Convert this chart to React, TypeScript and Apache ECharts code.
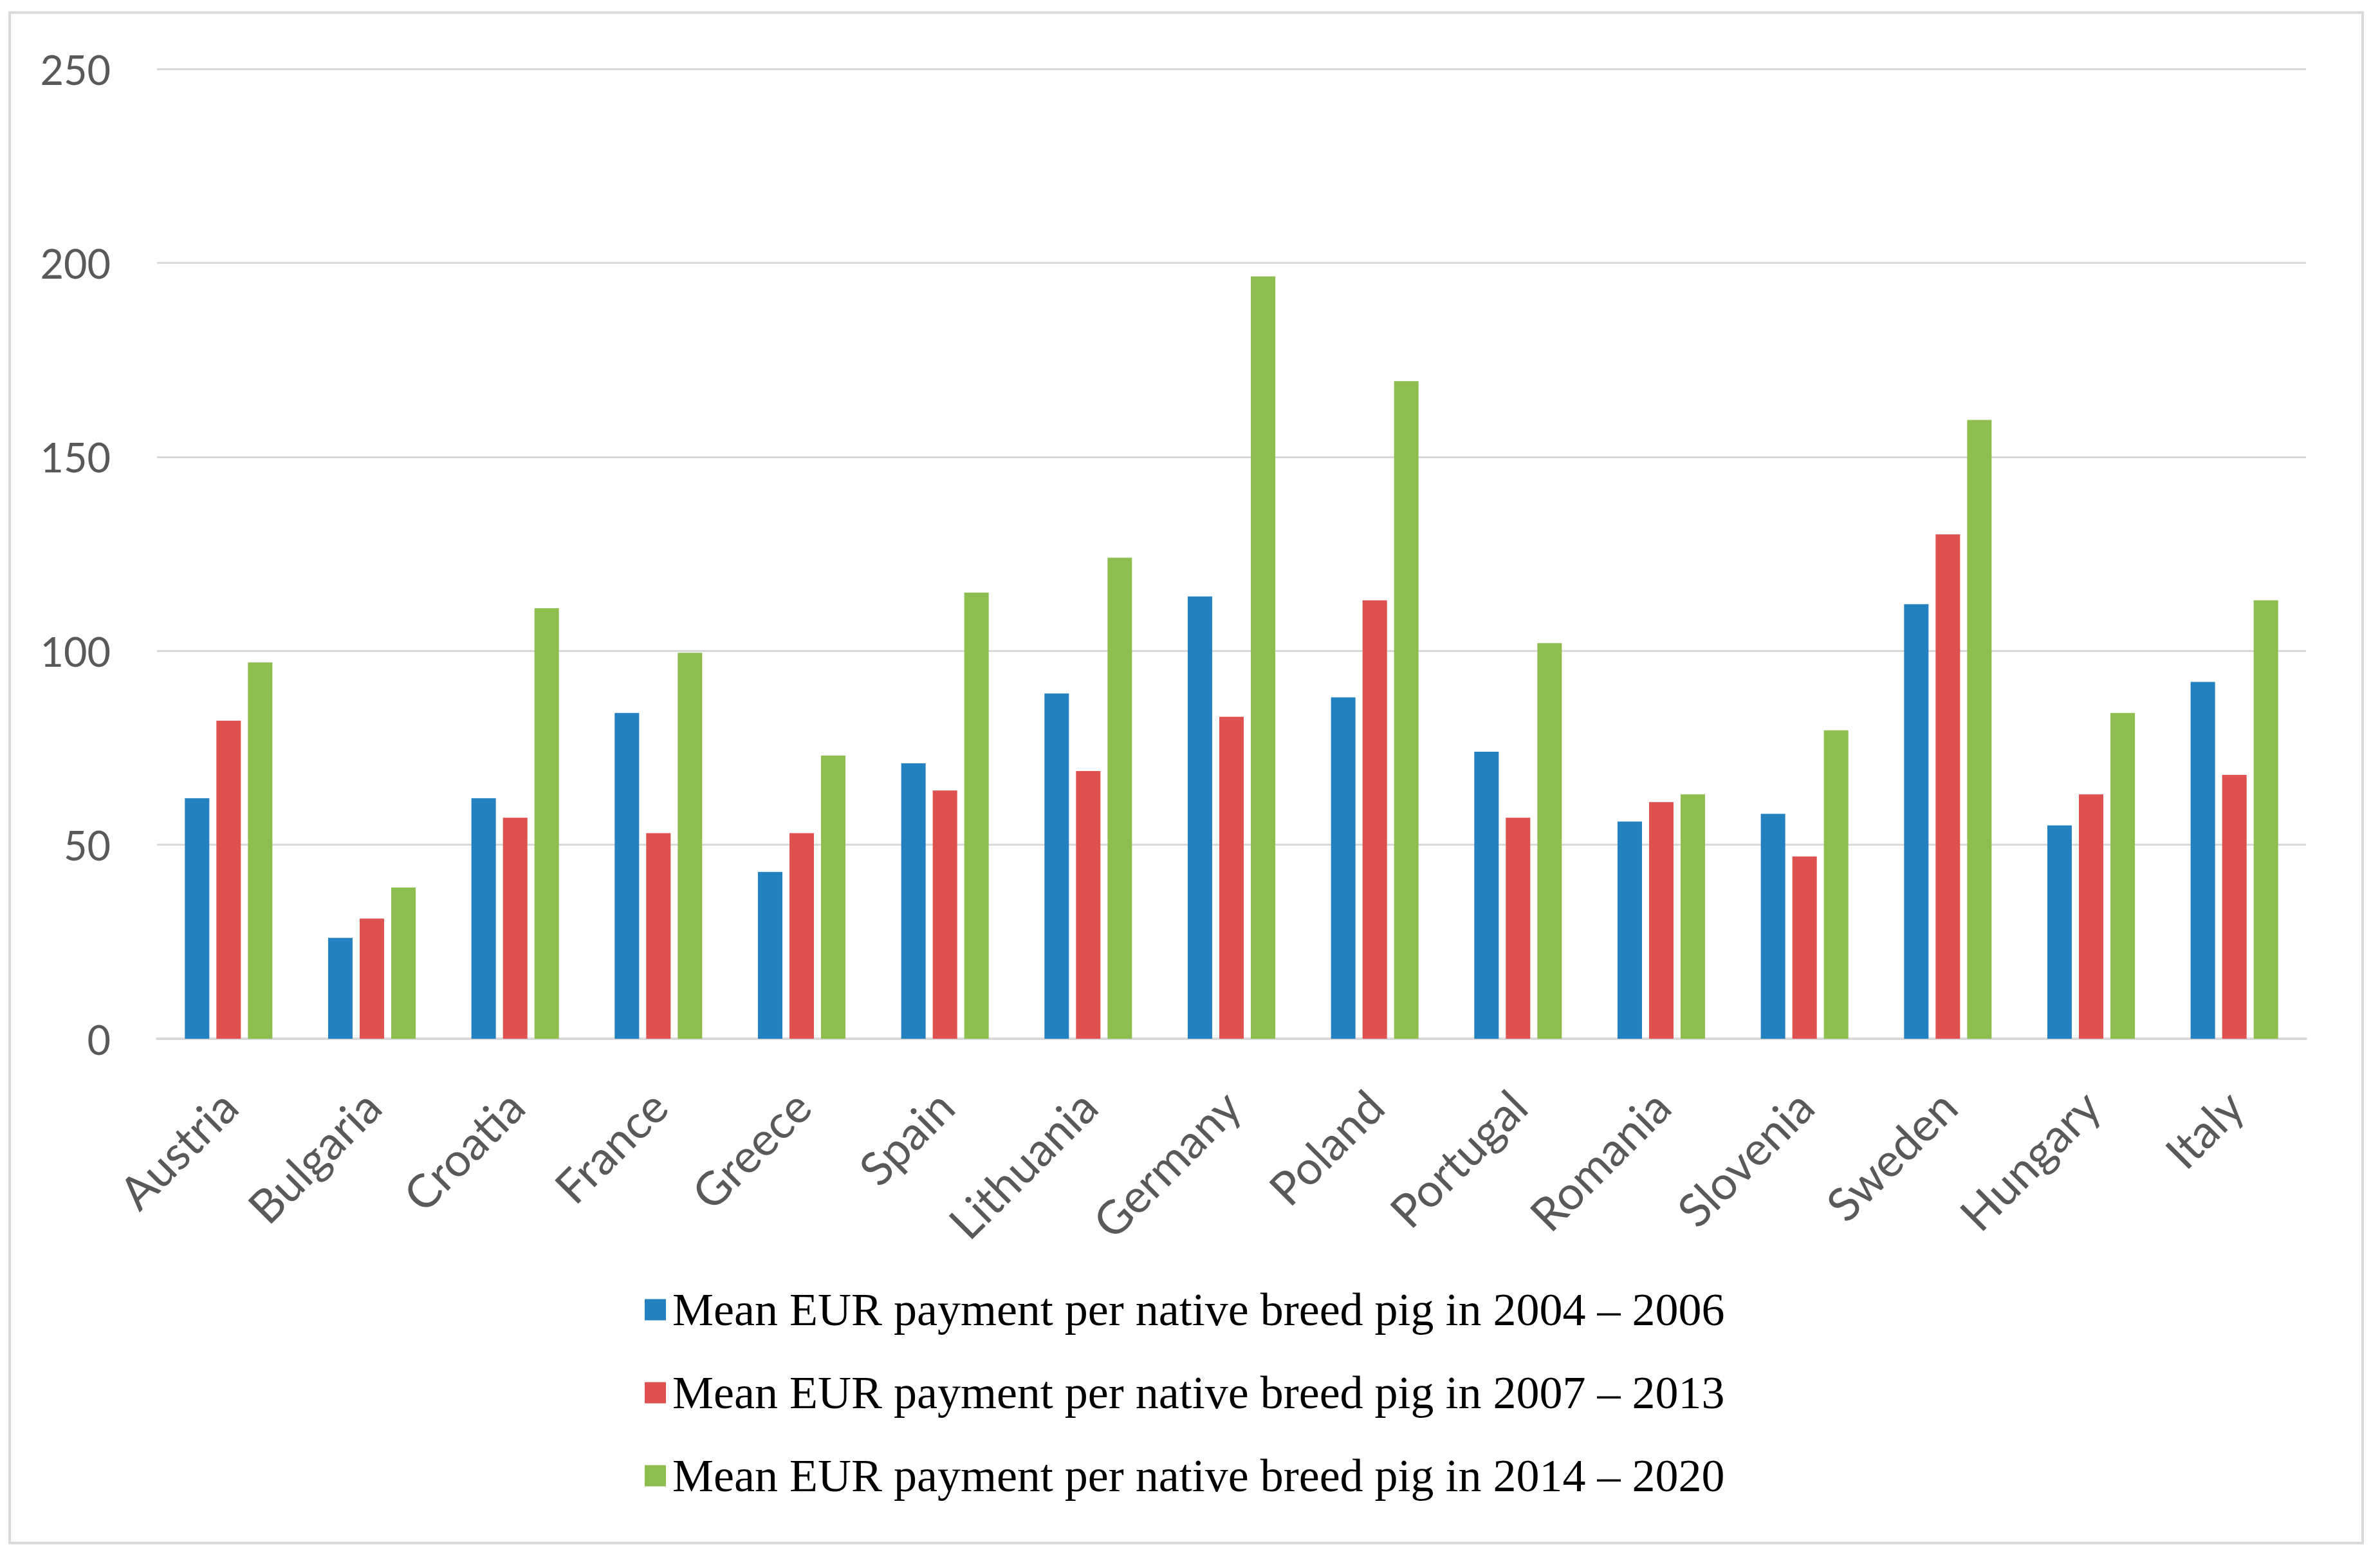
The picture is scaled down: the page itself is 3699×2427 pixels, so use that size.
import React, { useEffect, useRef } from "react";
import * as echarts from "echarts";

const categories = [
  "Austria", "Bulgaria", "Croatia", "France", "Greece", "Spain", "Lithuania",
  "Germany", "Poland", "Portugal", "Romania", "Slovenia", "Sweden", "Hungary", "Italy",
];
const seriesNames = [
  "Mean EUR payment per native breed pig in 2004 – 2006",
  "Mean EUR payment per native breed pig in 2007 – 2013",
  "Mean EUR payment per native breed pig in 2014 – 2020",
];
const values2004 = [62, 26, 62, 84, 43, 71, 89, 114, 88, 74, 56, 58, 112, 55, 92];
const values2007 = [82, 31, 57, 53, 53, 64, 69, 83, 113, 57, 61, 47, 130, 63, 68];
const values2014 = [97, 39, 111, 99.5, 73, 115, 124, 196.5, 169.5, 102, 63, 79.5, 159.5, 84, 113];
const colors = ["#2481c0", "#df5050", "#8ebd50"];
const yMin = 0;
const yMax = 250;
const yInterval = 50;

export default function App() {
  const ref = useRef<HTMLDivElement>(null);
  useEffect(() => {
    document.body.style.margin = "0";
    const chart = echarts.init(ref.current!, null, { renderer: "svg" });
    const allValues = [values2004, values2007, values2014];
    chart.setOption({
      animation: false,
      backgroundColor: "#ffffff",
      color: colors,
      graphic: [
        {
          type: "rect",
          shape: { x: 15, y: 19.5, width: 3657, height: 2378 },
          style: { fill: "none", stroke: "#d9d9d9", lineWidth: 4 },
          silent: true,
        },
      ],
      grid: { left: 244, top: 107, width: 3340, height: 1507, containLabel: false },
      legend: {
        orient: "vertical",
        left: 997,
        top: 1994,
        itemWidth: 33,
        itemHeight: 33,
        itemGap: 57,
        icon: "rect",
        data: seriesNames,
        textStyle: {
          fontFamily: "Liberation Serif",
          fontSize: 72,
          lineHeight: 72,
          color: "#000000",
          padding: [0, 0, 0, 5],
        },
      },
      xAxis: {
        type: "category",
        data: categories,
        axisTick: { show: false },
        axisLine: { lineStyle: { color: "#d9d9d9", width: 4 } },
        axisLabel: {
          rotate: 45,
          margin: 92,
          interval: 0,
          fontFamily: "Lato",
          fontSize: 72,
          color: "#595959",
        },
      },
      yAxis: {
        type: "value",
        min: yMin,
        max: yMax,
        interval: yInterval,
        axisLine: { show: false },
        axisTick: { show: false },
        splitLine: { lineStyle: { color: "#d9d9d9", width: 3 } },
        axisLabel: {
          margin: 72,
          fontFamily: "Lato",
          fontSize: 63,
          color: "#595959",
        },
      },
      series: seriesNames.map((name, i) => ({
        name,
        type: "bar",
        data: allValues[i],
        barWidth: 38,
        barGap: "29%",
        itemStyle: { color: colors[i] },
      })),
    });
    return () => chart.dispose();
  }, []);
  return <div ref={ref} style={{ width: 3699, height: 2427 }} />;
}
